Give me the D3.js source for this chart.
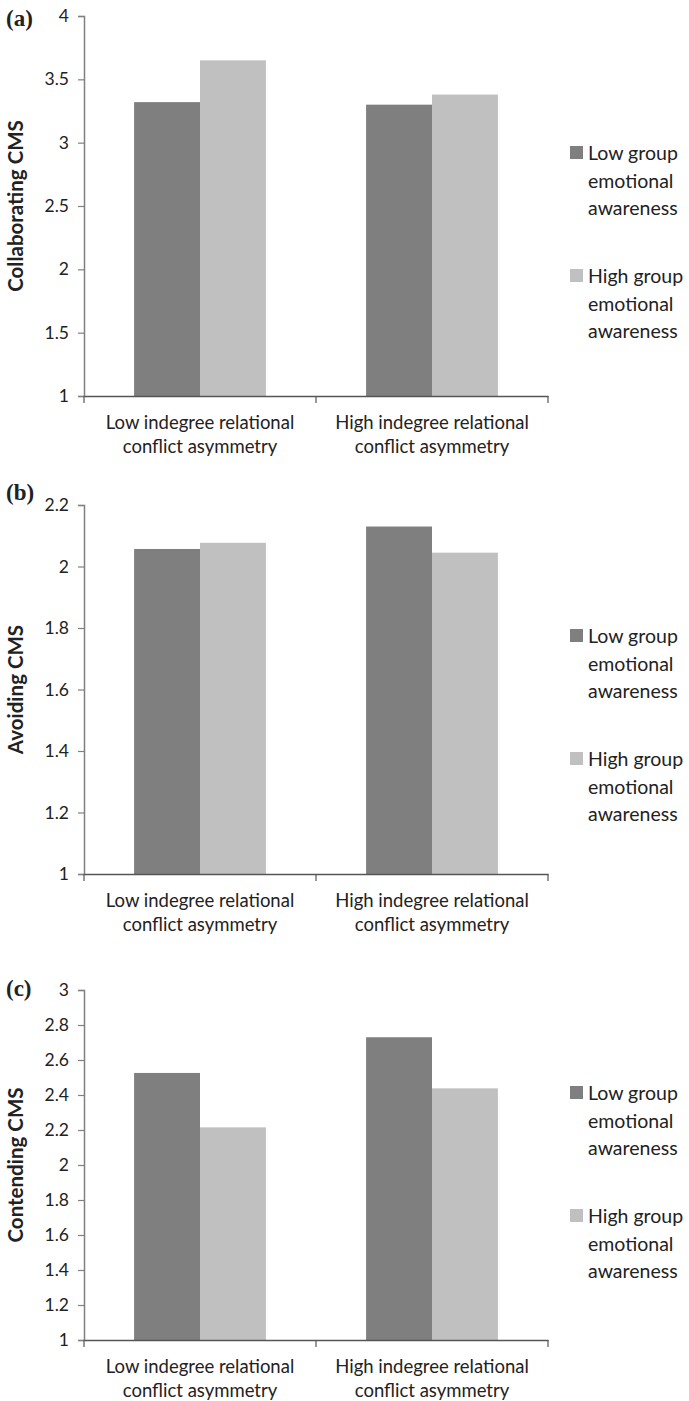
<!DOCTYPE html>
<html>
<head>
<meta charset="utf-8">
<script src="https://cdn.jsdelivr.net/npm/d3@7"></script>
<style>
  body { margin: 0; background: #fff; }
  text { font-family: Lato, "Open Sans", sans-serif; fill: #222; }
</style>
</head>
<body>
<script>
// data
const categories = ["Low indegree relational conflict asymmetry", "High indegree relational conflict asymmetry"];
const seriesNames = ["Low group emotional awareness", "High group emotional awareness"];
const panelLetters = ["(a)", "(b)", "(c)"];
const yTitles = ["Collaborating CMS", "Avoiding CMS", "Contending CMS"];

const collaboratingLow = [3.32, 3.30];
const collaboratingHigh = [3.65, 3.38];
const avoidingLow = [2.057, 2.13];
const avoidingHigh = [2.077, 2.045];
const contendingLow = [2.526, 2.73];
const contendingHigh = [2.215, 2.438];

const yDomains = [[1, 4], [1, 2.2], [1, 3]];
const yTickValues = [
  [1, 1.5, 2, 2.5, 3, 3.5, 4],
  [1, 1.2, 1.4, 1.6, 1.8, 2, 2.2],
  [1, 1.2, 1.4, 1.6, 1.8, 2, 2.2, 2.4, 2.6, 2.8, 3]
];

const colors = ["#7f7f7f", "#c0c0c0"];

const width = 689, height = 1401;
const svg = d3.select("body").append("svg")
  .attr("width", width)
  .attr("height", height);

// layout of the three panels (top / bottom of the plotting area)
const panels = [
  { top: 16, bottom: 396, low: collaboratingLow, high: collaboratingHigh, legendY: 153 },
  { top: 505, bottom: 874, low: avoidingLow, high: avoidingHigh, legendY: 636 },
  { top: 990, bottom: 1340, low: contendingLow, high: contendingHigh, legendY: 1093 }
];

const x0 = d3.scaleBand().domain(categories).range([84, 548]).paddingInner(0).paddingOuter(0);
const x1 = d3.scaleBand().domain(seriesNames).range([0, x0.bandwidth()]).paddingOuter(0.76).paddingInner(0);

panels.forEach((p, i) => {
  const g = svg.append("g");
  const y = d3.scaleLinear().domain(yDomains[i]).range([p.bottom, p.top]);

  // bars
  const rows = categories.map((c, j) => ({ cat: c, vals: [p.low[j], p.high[j]] }));
  g.selectAll("g.grp")
    .data(rows)
    .enter().append("g")
    .attr("transform", d => `translate(${x0(d.cat)},0)`)
    .selectAll("rect")
    .data(d => d.vals.map((v, k) => ({ s: seriesNames[k], v, k })))
    .enter().append("rect")
    .attr("x", d => x1(d.s))
    .attr("width", x1.bandwidth())
    .attr("y", d => y(d.v))
    .attr("height", d => y(yDomains[i][0]) - y(d.v))
    .attr("fill", d => colors[d.k]);

  // y axis
  const yAxis = g.append("g")
    .attr("transform", "translate(84,0)")
    .call(d3.axisLeft(y).tickValues(yTickValues[i]).tickSize(6).tickPadding(9).tickFormat(d3.format("")));
  yAxis.select(".domain").attr("stroke", "#808080").attr("stroke-width", 1.5);
  yAxis.selectAll(".tick line").attr("stroke", "#808080").attr("stroke-width", 1.2);
  yAxis.selectAll(".tick text").attr("font-size", 17.5).attr("fill", "#222").style("font-family", "Lato, sans-serif");

  // x axis
  const xAxis = g.append("g")
    .attr("transform", `translate(0,${p.bottom})`)
    .call(d3.axisBottom(x0).tickValues([]).tickSizeOuter(0));
  xAxis.select(".domain").attr("stroke", "#555").attr("stroke-width", 1.5);
  g.selectAll("line.xtick")
    .data([84, 316, 548])
    .enter().append("line")
    .attr("x1", d => d).attr("x2", d => d)
    .attr("y1", p.bottom).attr("y2", p.bottom + 7)
    .attr("stroke", "#555").attr("stroke-width", 1.2);

  // category labels (two lines)
  const labels = g.selectAll("text.cat")
    .data(categories)
    .enter().append("text")
    .attr("text-anchor", "middle")
    .attr("font-size", 18.5);
  labels.append("tspan")
    .attr("x", d => x0(d) + x0.bandwidth() / 2)
    .attr("y", p.bottom + 33)
    .text(d => d.split(" ").slice(0, 3).join(" "));
  labels.append("tspan")
    .attr("x", d => x0(d) + x0.bandwidth() / 2)
    .attr("y", p.bottom + 57)
    .text(d => d.split(" ").slice(3).join(" "));

  // y title
  g.append("text")
    .attr("transform", `translate(23,${(p.top + p.bottom) / 2}) rotate(-90)`)
    .attr("text-anchor", "middle")
    .attr("font-size", 20.5)
    .attr("font-weight", "bold")
    .attr("fill", "#111")
    .text(yTitles[i]);

  // panel letter
  g.append("text")
    .attr("x", 6)
    .attr("y", p.top + (i === 0 ? 10 : i === 1 ? -5 : 6))
    .attr("font-size", 23)
    .attr("font-weight", "bold")
    .style("font-family", "'Liberation Serif', 'DejaVu Serif', serif")
    .attr("fill", "#111")
    .text(panelLetters[i]);

  // legend
  const legend = g.selectAll("g.leg")
    .data(seriesNames)
    .enter().append("g")
    .attr("transform", (d, k) => `translate(570,${p.legendY + k * 123})`);
  legend.append("rect")
    .attr("x", 0).attr("y", -7)
    .attr("width", 13).attr("height", 13)
    .attr("fill", (d, k) => colors[k]);
  const lt = legend.append("text")
    .attr("font-size", 19.5);
  lt.append("tspan").attr("x", 18).attr("y", 7).text(d => d.split(" ").slice(0, 2).join(" "));
  lt.append("tspan").attr("x", 18).attr("y", 35).text(d => d.split(" ")[2]);
  lt.append("tspan").attr("x", 18).attr("y", 62).text(d => d.split(" ")[3]);
});
</script>
</body>
</html>
